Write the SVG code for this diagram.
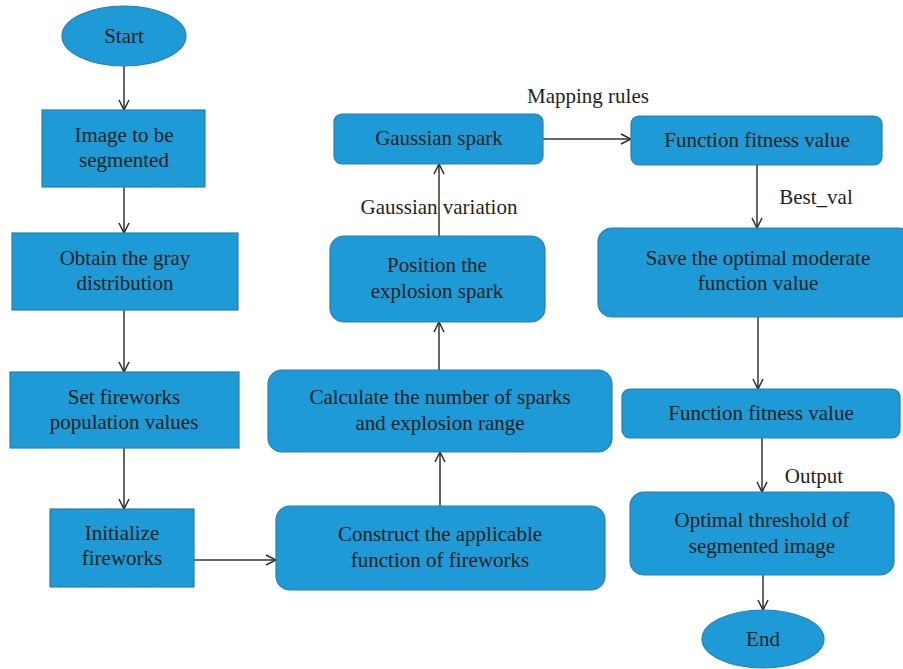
<svg xmlns="http://www.w3.org/2000/svg" width="903" height="669" viewBox="0 0 903 669">
<defs>
<marker id="arr" viewBox="0 0 12 12" refX="11" refY="6" markerWidth="12" markerHeight="12" markerUnits="userSpaceOnUse" orient="auto">
<path d="M1,1 L11,6 L1,11" fill="none" stroke="#2b2b2b" stroke-width="1.5"/>
</marker>
</defs>
<style>
.n{fill:#1e9bd7;stroke:#2a7eb0;stroke-width:1.2}
.t{font-family:"Liberation Serif",serif;font-size:21px;fill:#231f20;text-anchor:middle}
.c{stroke:#333;stroke-width:1.5;fill:none;marker-end:url(#arr)}
</style>
<rect width="903" height="669" fill="#fff"/>
<g id="connectors">
<line class="c" x1="124" y1="66" x2="124" y2="110"/>
<line class="c" x1="124" y1="187" x2="124" y2="233"/>
<line class="c" x1="124" y1="310" x2="124" y2="372"/>
<line class="c" x1="124" y1="448" x2="124" y2="509"/>
<line class="c" x1="194" y1="560" x2="276" y2="560"/>
<line class="c" x1="440" y1="506" x2="440" y2="452"/>
<line class="c" x1="439" y1="370" x2="439" y2="322"/>
<line class="c" x1="439" y1="236" x2="439" y2="164"/>
<line class="c" x1="543" y1="139" x2="631" y2="139"/>
<line class="c" x1="757" y1="165" x2="757" y2="228"/>
<line class="c" x1="758" y1="317" x2="758" y2="389"/>
<line class="c" x1="762" y1="438" x2="762" y2="492"/>
<line class="c" x1="763" y1="575" x2="763" y2="610"/>
<text class="t" x="439" y="214">Gaussian variation</text>
<text class="t" x="588" y="103">Mapping rules</text>
<text class="t" x="816" y="204">Best_val</text>
<text class="t" x="814" y="483">Output</text>
</g>
<g id="start"><ellipse class="n" cx="124" cy="36" rx="62" ry="30"/><text class="t" x="124" y="43">Start</text></g>
<g id="image"><rect class="n" x="42" y="110" width="163" height="77"/><text class="t" x="124" y="142">Image to be</text><text class="t" x="124" y="167">segmented</text></g>
<g id="gray"><rect class="n" x="12" y="233" width="226" height="77"/><text class="t" x="125" y="265">Obtain the gray</text><text class="t" x="125" y="290">distribution</text></g>
<g id="setpop"><rect class="n" x="10" y="372" width="229" height="76"/><text class="t" x="124" y="404">Set fireworks</text><text class="t" x="124" y="429">population values</text></g>
<g id="init"><rect class="n" x="50" y="509" width="144" height="78"/><text class="t" x="122" y="540">Initialize</text><text class="t" x="122" y="565">fireworks</text></g>
<g id="construct"><rect class="n" x="276" y="506" width="329" height="84" rx="14"/><text class="t" x="440" y="541">Construct the applicable</text><text class="t" x="440" y="567">function of fireworks</text></g>
<g id="calc"><rect class="n" x="268" y="370" width="344" height="82" rx="14"/><text class="t" x="440" y="404">Calculate the number of sparks</text><text class="t" x="440" y="430">and explosion range</text></g>
<g id="position"><rect class="n" x="330" y="236" width="215" height="86" rx="14"/><text class="t" x="437" y="272">Position the</text><text class="t" x="437" y="298">explosion spark</text></g>
<g id="gauss"><rect class="n" x="334" y="114" width="209" height="50" rx="8"/><text class="t" x="439" y="145">Gaussian spark</text></g>
<g id="fit1"><rect class="n" x="631" y="116" width="251" height="49" rx="8"/><text class="t" x="757" y="147">Function fitness value</text></g>
<g id="save"><rect class="n" x="598" y="228" width="315" height="89" rx="14"/><text class="t" x="758" y="265">Save the optimal moderate</text><text class="t" x="758" y="290">function value</text></g>
<g id="fit2"><rect class="n" x="622" y="389" width="278" height="49" rx="8"/><text class="t" x="761" y="420">Function fitness value</text></g>
<g id="optimal"><rect class="n" x="630" y="492" width="264" height="83" rx="14"/><text class="t" x="762" y="527">Optimal threshold of</text><text class="t" x="762" y="553">segmented image</text></g>
<g id="end"><ellipse class="n" cx="763" cy="639" rx="61" ry="29"/><text class="t" x="763" y="646">End</text></g>
</svg>
